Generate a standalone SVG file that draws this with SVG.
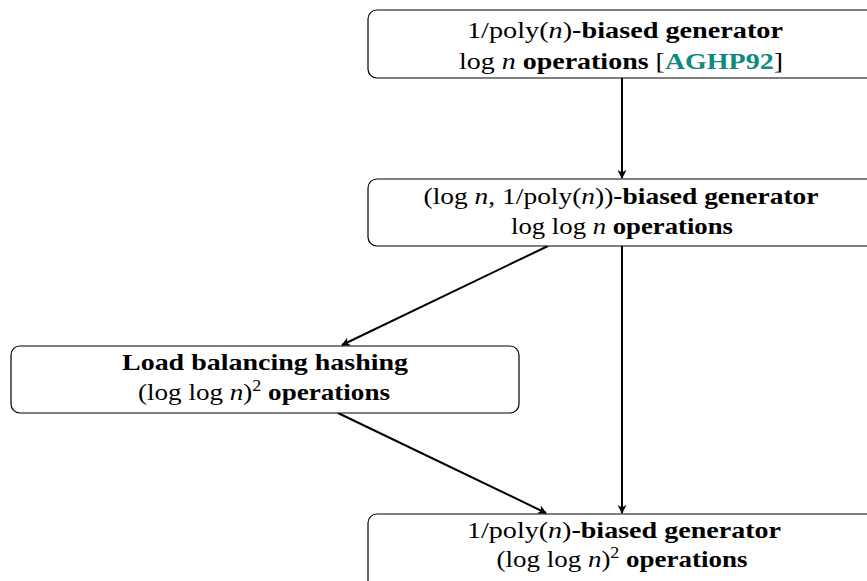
<svg xmlns="http://www.w3.org/2000/svg" width="867" height="581" viewBox="0 0 867 581">
<style>
.box{fill:#fff;stroke:#000;stroke-width:1.2}
text{font-family:"Liberation Serif","DejaVu Serif",serif;font-size:24px;fill:#000;text-anchor:middle}
.b{font-weight:bold}
.i{font-style:italic}
.cite{fill:#0f8a80;font-weight:bold}
.edge{stroke:#000;stroke-width:2;fill:none;marker-end:url(#ah)}
</style>
<defs>
<marker id="ah" viewBox="0 0 10 10" refX="9" refY="5" markerWidth="9" markerHeight="9" markerUnits="userSpaceOnUse" orient="auto">
<path d="M0,0 L10,5 L0,10 L3,5 Z" fill="#000"/>
</marker>
</defs>
<rect width="867" height="581" fill="#fff"/>
<g id="connectors">
<line class="edge" x1="622" y1="78" x2="622" y2="178"/>
<line class="edge" x1="622" y1="246" x2="622" y2="513"/>
<line class="edge" x1="548" y1="246" x2="342" y2="345"/>
<line class="edge" x1="338" y1="413" x2="546" y2="513"/>
</g>
<g id="n1">
<rect class="box" x="368" y="10" width="514" height="68" rx="9"/>
<text x="625" y="38" textLength="316" lengthAdjust="spacingAndGlyphs">1/poly(<tspan class="i">n</tspan>)<tspan class="b">-biased generator</tspan></text>
<text x="621" y="69" textLength="324" lengthAdjust="spacingAndGlyphs">log <tspan class="i">n</tspan> <tspan class="b">operations</tspan> [<tspan class="cite">AGHP92</tspan>]</text>
</g>
<g id="n2">
<rect class="box" x="368" y="179" width="514" height="67" rx="9"/>
<text x="621" y="204" textLength="395" lengthAdjust="spacingAndGlyphs">(log <tspan class="i">n</tspan>, 1/poly(<tspan class="i">n</tspan>))<tspan class="b">-biased generator</tspan></text>
<text x="622" y="234" textLength="222" lengthAdjust="spacingAndGlyphs">log log <tspan class="i">n</tspan> <tspan class="b">operations</tspan></text>
</g>
<g id="n3">
<rect class="box" x="11" y="346" width="508" height="67" rx="9"/>
<text x="265" y="370" class="b" textLength="286" lengthAdjust="spacingAndGlyphs">Load balancing hashing</text>
<text x="264" y="400" textLength="252" lengthAdjust="spacingAndGlyphs">(log log <tspan class="i">n</tspan>)<tspan dy="-9" font-size="16">2</tspan><tspan dy="9"> </tspan><tspan class="b">operations</tspan></text>
</g>
<g id="n4">
<rect class="box" x="368" y="514" width="514" height="80" rx="9"/>
<text x="624" y="538" textLength="314" lengthAdjust="spacingAndGlyphs">1/poly(<tspan class="i">n</tspan>)<tspan class="b">-biased generator</tspan></text>
<text x="622" y="567" textLength="251" lengthAdjust="spacingAndGlyphs">(log log <tspan class="i">n</tspan>)<tspan dy="-9" font-size="16">2</tspan><tspan dy="9"> </tspan><tspan class="b">operations</tspan></text>
</g>
</svg>
